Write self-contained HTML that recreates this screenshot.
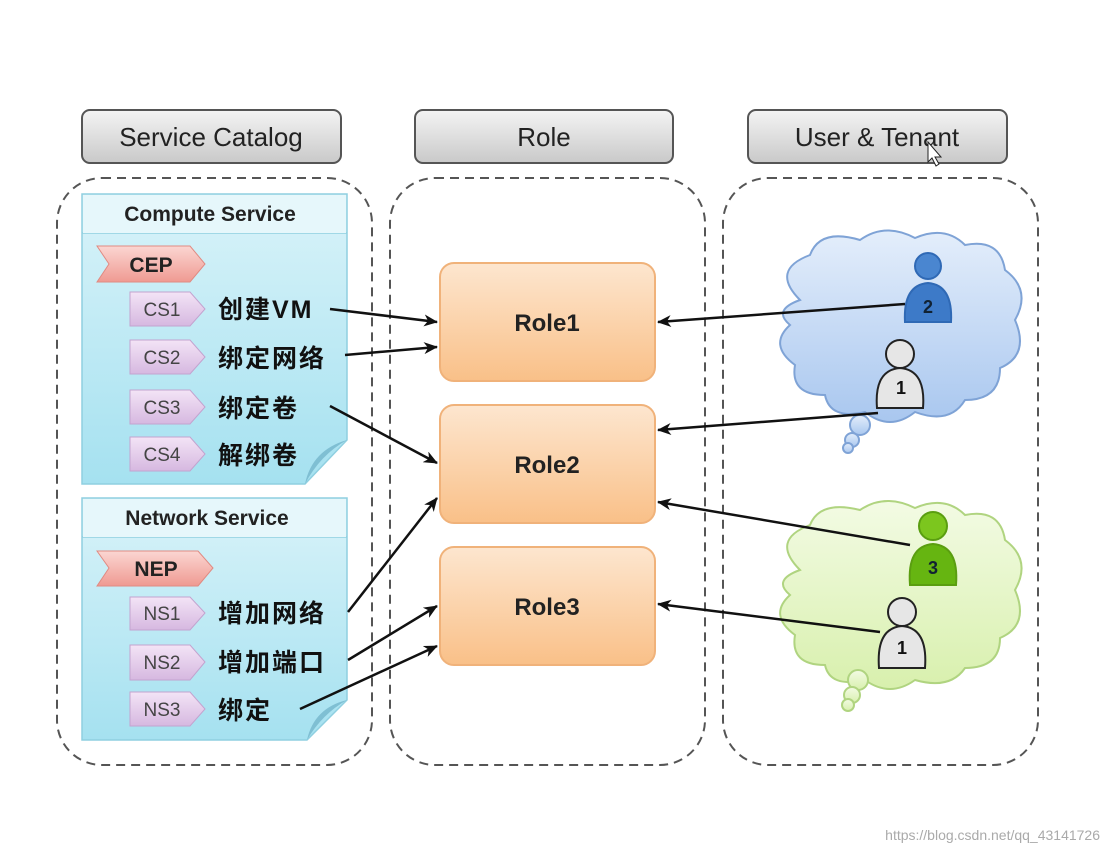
<!DOCTYPE html>
<html><head><meta charset="utf-8">
<style>
html,body{margin:0;padding:0;background:#fff;width:1109px;height:855px;overflow:hidden}
svg text{font-family:"Liberation Sans","Noto Sans CJK SC",sans-serif}
</style></head><body>
<svg width="1109" height="855" viewBox="0 0 1109 855" xmlns="http://www.w3.org/2000/svg">
<defs>
<linearGradient id="hg" x1="0" y1="0" x2="0" y2="1"><stop offset="0" stop-color="#f4f4f4"/><stop offset="1" stop-color="#c9c9c9"/></linearGradient>
<linearGradient id="og" x1="0" y1="0" x2="0" y2="1"><stop offset="0" stop-color="#fde6cf"/><stop offset="1" stop-color="#f9c088"/></linearGradient>
<linearGradient id="cg" x1="0" y1="0" x2="0" y2="1"><stop offset="0" stop-color="#d9f3f9"/><stop offset="1" stop-color="#a5e1f0"/></linearGradient>
<linearGradient id="pg" x1="0" y1="0" x2="0" y2="1"><stop offset="0" stop-color="#f3e4f6"/><stop offset="1" stop-color="#d6b8e0"/></linearGradient>
<linearGradient id="rg" x1="0" y1="0" x2="0" y2="1"><stop offset="0" stop-color="#fbd6d2"/><stop offset="1" stop-color="#ef9a92"/></linearGradient>
<linearGradient id="bc" x1="0" y1="0" x2="0" y2="1"><stop offset="0" stop-color="#e4eefb"/><stop offset="1" stop-color="#a9c7ef"/></linearGradient>
<linearGradient id="gc" x1="0" y1="0" x2="0" y2="1"><stop offset="0" stop-color="#f3fbe4"/><stop offset="1" stop-color="#d8f0ad"/></linearGradient>
<marker id="ar" markerWidth="14" markerHeight="12" refX="13" refY="6" orient="auto" markerUnits="userSpaceOnUse"><path d="M0,0 L14,6 L0,12 L4,6 z" fill="#111"/></marker>
</defs>

<g font-size="26" fill="#222" text-anchor="middle">
<rect x="82" y="110" width="259" height="53" rx="8" fill="url(#hg)" stroke="#555" stroke-width="2"/>
<text x="211" y="146">Service Catalog</text>
<rect x="415" y="110" width="258" height="53" rx="8" fill="url(#hg)" stroke="#555" stroke-width="2"/>
<text x="544" y="146">Role</text>
<rect x="748" y="110" width="259" height="53" rx="8" fill="url(#hg)" stroke="#555" stroke-width="2"/>
<text x="877" y="146">User &amp; Tenant</text>
</g>

<g fill="none" stroke="#555" stroke-width="2" stroke-dasharray="9,6">
<rect x="57" y="178" width="315" height="587" rx="45"/>
<rect x="390" y="178" width="315" height="587" rx="45"/>
<rect x="723" y="178" width="315" height="587" rx="45"/>
</g>

<path d="M82,194 H347 V440 L305,484 H82 Z" fill="url(#cg)" stroke="#8fcfe0" stroke-width="1.5"/>
<path d="M305,484 Q312,450 347,440 Q320,455 305,484 Z" fill="#7fbfd3"/>
<line x1="82" y1="233" x2="347" y2="233" stroke="#8fcfe0" stroke-width="1.5"/>
<rect x="83" y="195" width="263" height="38" fill="#e6f7fb"/>
<text x="210" y="221" font-size="21" font-weight="bold" text-anchor="middle" fill="#222">Compute Service</text>

<path d="M97,246 H190 L205,264 L190,282 H97 L109,264 Z" fill="url(#rg)" stroke="#e08a82"/>
<text x="151" y="272" font-size="21" font-weight="bold" text-anchor="middle" fill="#222">CEP</text>

<g font-size="19" fill="#444" text-anchor="middle">
<path d="M130,292 H190 L205,309 L190,326 H130 Z" fill="url(#pg)" stroke="#c3a3cf"/><text x="162" y="316">CS1</text>
<path d="M130,340 H190 L205,357 L190,374 H130 Z" fill="url(#pg)" stroke="#c3a3cf"/><text x="162" y="364">CS2</text>
<path d="M130,390 H190 L205,407 L190,424 H130 Z" fill="url(#pg)" stroke="#c3a3cf"/><text x="162" y="414">CS3</text>
<path d="M130,437 H190 L205,454 L190,471 H130 Z" fill="url(#pg)" stroke="#c3a3cf"/><text x="162" y="461">CS4</text>
</g>
<g font-size="25" font-weight="bold" fill="#111" letter-spacing="2">
<text x="218" y="318">创建VM</text>
<text x="218" y="367">绑定网络</text>
<text x="218" y="417">绑定卷</text>
<text x="218" y="464">解绑卷</text>
</g>

<path d="M82,498 H347 V700 L307,740 H82 Z" fill="url(#cg)" stroke="#8fcfe0" stroke-width="1.5"/>
<path d="M307,740 Q314,708 347,700 Q322,714 307,740 Z" fill="#7fbfd3"/>
<line x1="82" y1="537" x2="347" y2="537" stroke="#8fcfe0" stroke-width="1.5"/>
<rect x="83" y="499" width="263" height="38" fill="#e6f7fb"/>
<text x="207" y="525" font-size="21" font-weight="bold" text-anchor="middle" fill="#222">Network Service</text>

<path d="M97,551 H198 L213,568 L198,586 H97 L109,568 Z" fill="url(#rg)" stroke="#e08a82"/>
<text x="156" y="576" font-size="21" font-weight="bold" text-anchor="middle" fill="#222">NEP</text>
<g font-size="19" fill="#444" text-anchor="middle">
<path d="M130,597 H190 L205,613 L190,630 H130 Z" fill="url(#pg)" stroke="#c3a3cf"/><text x="162" y="620">NS1</text>
<path d="M130,645 H190 L205,662 L190,680 H130 Z" fill="url(#pg)" stroke="#c3a3cf"/><text x="162" y="669">NS2</text>
<path d="M130,692 H190 L205,709 L190,726 H130 Z" fill="url(#pg)" stroke="#c3a3cf"/><text x="162" y="716">NS3</text>
</g>
<g font-size="25" font-weight="bold" fill="#111" letter-spacing="2">
<text x="218" y="622">增加网络</text>
<text x="218" y="671">增加端口</text>
<text x="218" y="719">绑定</text>
</g>

<g font-size="24" font-weight="bold" fill="#222" text-anchor="middle">
<rect x="440" y="263" width="215" height="118" rx="14" fill="url(#og)" stroke="#f0b27a" stroke-width="2"/>
<text x="547" y="331">Role1</text>
<rect x="440" y="405" width="215" height="118" rx="14" fill="url(#og)" stroke="#f0b27a" stroke-width="2"/>
<text x="547" y="473">Role2</text>
<rect x="440" y="547" width="215" height="118" rx="14" fill="url(#og)" stroke="#f0b27a" stroke-width="2"/>
<text x="547" y="615">Role3</text>
</g>

<g stroke="#7fa3d6" stroke-width="2" fill="url(#bc)">
<path d="M800,300 Q770,270 810,255 Q820,228 860,240 Q885,222 915,238 Q945,225 965,245 Q1000,238 1005,270 Q1032,290 1015,320 Q1030,355 1000,368 Q1000,400 965,400 Q950,425 915,412 Q890,432 865,412 Q830,420 825,395 Q790,395 795,365 Q768,345 790,325 Q772,310 800,300 Z"/>
<circle cx="860" cy="425" r="10"/><circle cx="852" cy="440" r="7"/><circle cx="848" cy="448" r="5"/>
</g>
<g stroke="#b0d480" stroke-width="2" fill="url(#gc)">
<path d="M800,570 Q770,540 810,525 Q820,500 860,510 Q885,493 915,508 Q945,495 965,515 Q1000,508 1005,540 Q1032,560 1015,590 Q1030,625 1000,638 Q1000,668 965,668 Q950,690 915,680 Q890,698 865,680 Q830,688 825,665 Q790,665 795,635 Q768,615 790,595 Q772,580 800,570 Z"/>
<circle cx="858" cy="680" r="10"/><circle cx="852" cy="695" r="8"/><circle cx="848" cy="705" r="6"/>
</g>

<g stroke-width="2">
<circle cx="928" cy="266" r="13" fill="#4a86d0" stroke="#2f69b5"/>
<path d="M905,322 Q903,285 928,283 Q953,285 951,322 Z" fill="#3d7ac8" stroke="#2f69b5"/>
<text x="928" y="313" font-size="18" font-weight="bold" text-anchor="middle" fill="#123">2</text>
<circle cx="900" cy="354" r="14" fill="#e6e6e6" stroke="#222"/>
<path d="M877,408 Q874,370 900,368 Q926,370 923,408 Z" fill="#e6e6e6" stroke="#222"/>
<text x="901" y="394" font-size="18" font-weight="bold" text-anchor="middle" fill="#111">1</text>
<circle cx="933" cy="526" r="14" fill="#7cc61e" stroke="#5a9e10"/>
<path d="M910,585 Q907,546 933,544 Q959,546 956,585 Z" fill="#66b511" stroke="#5a9e10"/>
<text x="933" y="574" font-size="18" font-weight="bold" text-anchor="middle" fill="#123">3</text>
<circle cx="902" cy="612" r="14" fill="#e6e6e6" stroke="#222"/>
<path d="M879,668 Q876,628 902,626 Q928,628 925,668 Z" fill="#e6e6e6" stroke="#222"/>
<text x="902" y="654" font-size="18" font-weight="bold" text-anchor="middle" fill="#111">1</text>
</g>

<g stroke="#111" stroke-width="2.5" fill="none" marker-end="url(#ar)">
<line x1="330" y1="309" x2="437" y2="322"/>
<line x1="345" y1="355" x2="437" y2="347"/>
<line x1="330" y1="406" x2="437" y2="463"/>
<line x1="348" y1="612" x2="437" y2="498"/>
<line x1="348" y1="660" x2="437" y2="606"/>
<line x1="300" y1="709" x2="437" y2="646"/>
<line x1="905" y1="304" x2="658" y2="322"/>
<line x1="878" y1="413" x2="658" y2="430"/>
<line x1="910" y1="545" x2="658" y2="502"/>
<line x1="880" y1="632" x2="658" y2="604"/>
</g>

<path d="M928,142 L928,162 L932,158 L936,166 L939,164 L935,157 L941,157 Z" fill="#fff" stroke="#222" stroke-width="1"/>

<text x="1100" y="840" font-size="14" text-anchor="end" fill="#aaa">https://blog.csdn.net/qq_43141726</text>
</svg>
</body></html>
